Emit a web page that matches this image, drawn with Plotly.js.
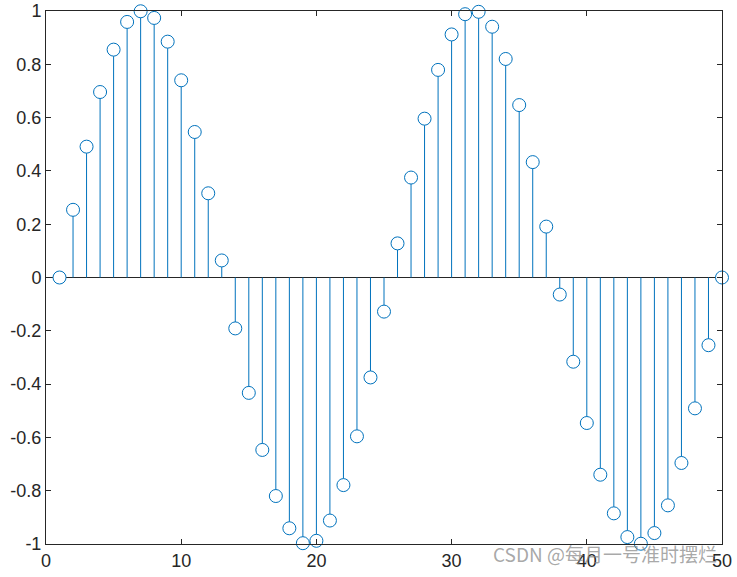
<!DOCTYPE html>
<html>
<head>
<meta charset="utf-8">
<script src="https://cdn.plot.ly/plotly-3.0.1.min.js"></script>
<style>html,body{margin:0;padding:0;background:#fff;}#chart{width:737px;height:577px;}</style>
</head>
<body>
<div id="chart"></div>
<script>
const n = [1,2,3,4,5,6,7,8,9,10,11,12,13,14,15,16,17,18,19,20,21,22,23,24,25,26,27,28,29,30,31,32,33,34,35,36,37,38,39,40,41,42,43,44,45,46,47,48,49,50];
const values = [0,0.254,0.491,0.696,0.855,0.959,0.999,0.974,0.885,0.740,0.546,0.316,0.064,-0.191,-0.433,-0.647,-0.820,-0.941,-0.997,-0.988,-0.912,-0.779,-0.596,-0.375,-0.128,0.128,0.375,0.596,0.779,0.912,0.988,0.997,0.941,0.820,0.647,0.433,0.191,-0.064,-0.316,-0.546,-0.740,-0.885,-0.974,-0.999,-0.959,-0.855,-0.696,-0.491,-0.254,0];
const xTicks = [0,10,20,30,40,50];
const yTicks = [-1,-0.8,-0.6,-0.4,-0.2,0,0.2,0.4,0.6,0.8,1];
const yTickText = ['-1','-0.8','-0.6','-0.4','-0.2','0','0.2','0.4','0.6','0.8','1'];
const watermark = 'CSDN @每月一号准时摆烂';
const blue = '#0072BD';

const sx = [], sy = [];
n.forEach((x, i) => { sx.push(x, x, null); sy.push(0, values[i], null); });

const traces = [
  {x: [0, 50], y: [0, 0], mode: 'lines', line: {color: '#262626', width: 1}, hoverinfo: 'skip'},
  {x: sx, y: sy, mode: 'lines', line: {color: blue, width: 1}, hoverinfo: 'skip'},
  {x: n, y: values, mode: 'markers', cliponaxis: false,
   marker: {symbol: 'circle', size: 13, color: '#ffffff', line: {width: 1, color: blue}}}
];

const axisCommon = {
  showgrid: false, zeroline: false, showline: true, mirror: 'ticks',
  linecolor: '#262626', linewidth: 1, ticks: 'inside', ticklen: 5,
  tickcolor: '#262626', tickwidth: 1,
  tickfont: {family: 'Liberation Sans, Arial, sans-serif', size: 18, color: '#262626'}
};

const layout = {
  width: 737, height: 577,
  margin: {l: 46, r: 15, t: 11, b: 33},
  paper_bgcolor: '#fff', plot_bgcolor: '#fff',
  showlegend: false,
  xaxis: Object.assign({}, axisCommon, {range: [0, 50], tickvals: xTicks, ticktext: xTicks.map(String)}),
  yaxis: Object.assign({}, axisCommon, {range: [-1, 1], tickvals: yTicks, ticktext: yTickText}),
  annotations: [{
    text: watermark, xref: 'paper', yref: 'paper', x: 0.995, y: -0.018,
    xanchor: 'right', yanchor: 'middle', showarrow: false,
    font: {family: 'Noto Sans CJK SC, Liberation Sans, sans-serif', size: 19, color: 'rgba(130,130,130,0.7)'}
  }]
};

Plotly.newPlot('chart', traces, layout, {displayModeBar: false, staticPlot: true});
</script>
</body>
</html>
